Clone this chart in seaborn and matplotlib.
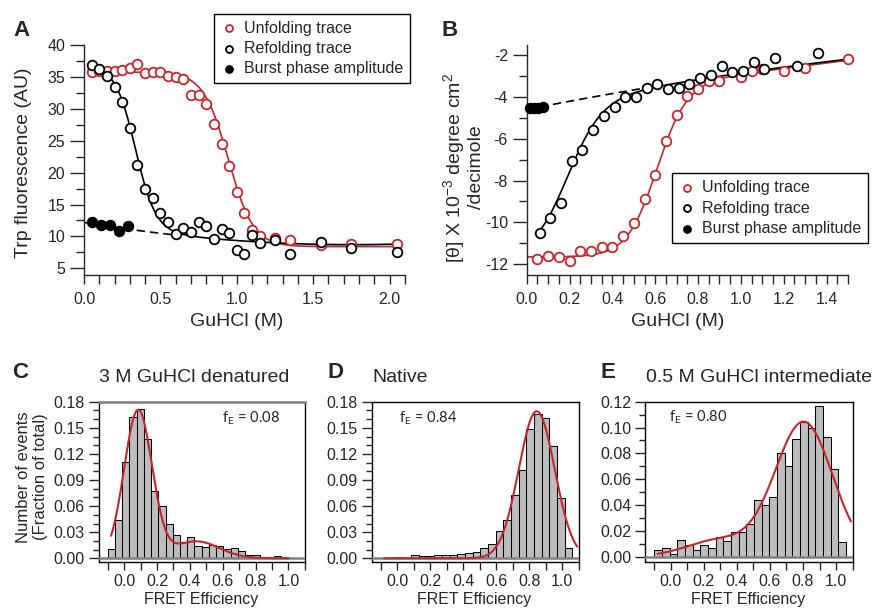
import numpy as np
import pandas as pd
import matplotlib
matplotlib.use("Agg")
import matplotlib.pyplot as plt
import seaborn as sns
from matplotlib.ticker import MultipleLocator, FormatStrFormatter

# ------------------------------------------------------------------ data
# Panel A : Trp fluorescence vs GuHCl
a_unf_x = [0.05, 0.10, 0.15, 0.20, 0.25, 0.30, 0.35, 0.40, 0.45, 0.50, 0.55, 0.60, 0.65, 0.70,
           0.75, 0.80, 0.85, 0.90, 0.95, 1.00, 1.05, 1.10, 1.15, 1.25, 1.35, 1.55, 1.75, 2.05]
a_unf_y = [35.8, 36.0, 35.9, 36.0, 36.1, 36.4, 37.0, 35.6, 35.7, 35.7, 35.2, 35.0, 34.6, 32.1,
           32.1, 30.7, 27.6, 24.5, 21.1, 16.9, 13.6, 11.0, 10.0, 9.8, 9.4, 8.65, 8.8, 8.8]
a_ref_x = a_unf_x
a_ref_y = [36.8, 36.2, 35.1, 33.4, 31.0, 27.0, 21.2, 17.4, 16.0, 13.6, 12.2, 10.3, 11.3, 10.7,
           12.3, 11.6, 9.6, 11.1, 10.6, 7.9, 7.3, 10.2, 8.9, 9.4, 7.2, 9.1, 8.2, 7.5]
a_burst_x = [0.05, 0.11, 0.17, 0.23, 0.29]
a_burst_y = [12.2, 11.8, 11.8, 10.9, 11.6]
# fit parameters
a_unf_fit = [35.75, 8.4, 0.945, 0.082]          # native, unfolded, midpoint, width
a_ref_fit = [36.8, 0.335, 0.066]                # native, midpoint, width
a_ref_base = [12.2, -3.985, 1.135]              # unfolded baseline (quadratic)

# Panel B : far-UV CD vs GuHCl
b_unf_x = [0.05, 0.10, 0.15, 0.20, 0.25, 0.30, 0.35, 0.40, 0.45, 0.50, 0.55, 0.60, 0.65, 0.70,
           0.75, 0.80, 0.85, 0.90, 1.00, 1.05, 1.10, 1.20, 1.30, 1.50]
b_unf_y = [-11.76, -11.62, -11.65, -11.84, -11.36, -11.36, -11.16, -11.19, -10.63, -10.01,
           -8.88, -7.72, -6.12, -4.87, -3.97, -3.64, -3.23, -3.24, -3.04, -2.75, -2.68,
           -2.76, -2.64, -2.21]
b_ref_x = [0.06, 0.11, 0.16, 0.21, 0.26, 0.31, 0.36, 0.41, 0.46, 0.51, 0.56, 0.61, 0.66, 0.71,
           0.76, 0.81, 0.86, 0.91, 0.96, 1.01, 1.06, 1.11, 1.16, 1.26, 1.36]
b_ref_y = [-10.49, -9.79, -9.05, -7.06, -6.54, -5.60, -4.93, -4.50, -4.02, -4.02, -3.58,
           -3.37, -3.62, -3.58, -3.39, -3.10, -2.97, -2.54, -2.80, -2.78, -2.33, -2.68,
           -2.16, -2.53, -1.89]
b_burst_x = [0.015, 0.035, 0.055, 0.075]
b_burst_y = [-4.55, -4.52, -4.52, -4.50]
b_unf_fit = [-11.65, 0.605, 0.07]
b_unf_base = [-4.2, 1.3]
b_ref_fit = [-11.65, 0.185, 0.08]
b_ref_base = [-4.6, 2.0, -0.265]

# Panels C-E : smFRET histograms (fraction of total)
c_centers = [-0.078, -0.034, 0.010, 0.054, 0.098, 0.142, 0.186, 0.230, 0.274, 0.318, 0.362,
             0.406, 0.450, 0.494, 0.538, 0.582, 0.626, 0.670, 0.714, 0.758, 0.802, 0.846,
             0.890, 0.934, 0.978]
c_heights = [0.0108, 0.0435, 0.111, 0.162, 0.172, 0.137, 0.0777, 0.0596, 0.040, 0.0269,
             0.0185, 0.0246, 0.0138, 0.0135, 0.0158, 0.0138, 0.0104, 0.0119, 0.0085, 0.0038,
             0.0038, 0.0019, 0.0019, 0.0027, 0.0015]
de_centers = [-0.0768, -0.0304, 0.0160, 0.0624, 0.1088, 0.1552, 0.2016, 0.2480, 0.2944,
              0.3408, 0.3872, 0.4336, 0.4800, 0.5264, 0.5728, 0.6192, 0.6656, 0.7120,
              0.7584, 0.8048, 0.8512, 0.8976, 0.9440, 0.9904, 1.0368]
d_heights = [0.0, 0.0, 0.0015, 0.0008, 0.0035, 0.0027, 0.0027, 0.0035, 0.0035, 0.0035, 0.005,
             0.006, 0.0077, 0.0123, 0.017, 0.031, 0.0446, 0.073, 0.102, 0.149, 0.166, 0.161,
             0.129, 0.069, 0.0115]
e_heights = [0.0047, 0.0067, 0.0021, 0.013, 0.0086, 0.0054, 0.0086, 0.0067, 0.0153, 0.0122,
             0.0187, 0.0194, 0.0249, 0.0441, 0.0397, 0.0461, 0.0804, 0.070, 0.0912, 0.1045,
             0.0993, 0.1166, 0.093, 0.0682, 0.0111]
c_fit = [(0.170, 0.085, 0.085), (0.0195, 0.44, 0.14)]   # (amplitude, mean, sigma)
d_fit = [(0.169, 0.845, 0.109)]
e_fit = [(0.104, 0.805, 0.174), (0.013, 0.30, 0.20)]
c_fit_range = [-0.08, 1.0]
d_fit_range = [-0.08, 1.09]
e_fit_range = [-0.08, 1.09]
fE_labels = ["0.08", "0.84", "0.80"]
titles = ["3 M GuHCl denatured", "Native", "0.5 M GuHCl intermediate"]
legend_labels = ["Unfolding trace", "Refolding trace", "Burst phase amplitude"]

# ------------------------------------------------------------------ style
sns.set_style("ticks")
plt.rcParams["font.family"] = ["Liberation Sans", "DejaVu Sans"]
plt.rcParams["axes.unicode_minus"] = False
plt.rcParams["axes.linewidth"] = 1.0
plt.rcParams["xtick.major.width"] = 1.0
plt.rcParams["ytick.major.width"] = 1.0
plt.rcParams["xtick.minor.width"] = 1.0
plt.rcParams["ytick.minor.width"] = 1.0

RED = "#C1272D"
GRAY_BAR = "#BDBDBD"
W, H = 872, 610
fig = plt.figure(figsize=(W / 100, H / 100), dpi=100)


def add_ax(l, t, r, b):
    return fig.add_axes([l / W, 1 - b / H, (r - l) / W, (b - t) / H])


def sigmoid(x, nat, unf, cm, w):
    return unf + (nat - unf) / (1 + np.exp((x - cm) / w))


def poly(x, coeffs):
    return sum(c * x ** i for i, c in enumerate(coeffs))


def gauss_sum(x, comps):
    return sum(a * np.exp(-(x - m) ** 2 / (2 * s ** 2)) for a, m, s in comps)


def points(ax, x, y, face, edge, label, z):
    sns.scatterplot(x=x, y=y, ax=ax, s=48, facecolor=face, edgecolor=edge, linewidth=1.3,
                    label=label, zorder=z, clip_on=False, legend=False)


def line(ax, x, y, color, lw=1.2, ls="-", z=2):
    sns.lineplot(x=x, y=y, ax=ax, color=color, linewidth=lw, linestyle=ls, zorder=z,
                 errorbar=None, sort=True, legend=False)


# ------------------------------------------------------------------ panel A
axA = add_ax(84, 45, 405, 274.5)
xg = np.linspace(0.05, 2.05, 400)
xd = np.linspace(0.0, 0.62, 50)
line(axA, xd, poly(xd, a_ref_base), "black", lw=1.2, ls=(0, (5, 3)))
line(axA, xg, sigmoid(xg, a_unf_fit[0], a_unf_fit[1], a_unf_fit[2], a_unf_fit[3]), RED)
line(axA, xg, sigmoid(xg, a_ref_fit[0], poly(xg, a_ref_base), a_ref_fit[1], a_ref_fit[2]), "black")
points(axA, a_unf_x, a_unf_y, "white", RED, legend_labels[0], 3)
points(axA, a_ref_x, a_ref_y, "white", "black", legend_labels[1], 4)
points(axA, a_burst_x, a_burst_y, "black", "black", legend_labels[2], 5)
axA.set_xlim(0, 2.101)
axA.set_ylim(4.03, 40)
axA.xaxis.set_major_locator(MultipleLocator(0.5))
axA.xaxis.set_minor_locator(MultipleLocator(0.1))
axA.xaxis.set_major_formatter(FormatStrFormatter("%.1f"))
axA.yaxis.set_major_locator(MultipleLocator(5))
axA.yaxis.set_minor_locator(MultipleLocator(2.5))
axA.set_xlabel("GuHCl (M)", fontsize=14)
axA.set_ylabel("Trp fluorescence (AU)", fontsize=14)
axA.xaxis.set_label_coords(0.477, -0.168)
axA.yaxis.set_label_coords(-0.163, 0.485)

# ------------------------------------------------------------------ panel B
axB = add_ax(526.7, 45, 848, 274.5)
xg_u = np.linspace(0.0, 1.5, 400)
xg_r = np.linspace(0.06, 1.5, 400)
xd = np.linspace(0.0, 0.55, 50)
line(axB, xd, poly(xd, b_ref_base), "black", lw=1.2, ls=(0, (5, 3)))
line(axB, xg_u, sigmoid(xg_u, b_unf_fit[0], poly(xg_u, b_unf_base), b_unf_fit[1], b_unf_fit[2]), RED)
line(axB, xg_r, sigmoid(xg_r, b_ref_fit[0], poly(xg_r, b_ref_base), b_ref_fit[1], b_ref_fit[2]), "black")
points(axB, b_unf_x, b_unf_y, "white", RED, legend_labels[0], 3)
points(axB, b_ref_x, b_ref_y, "white", "black", legend_labels[1], 4)
points(axB, b_burst_x, b_burst_y, "black", "black", legend_labels[2], 5)
axB.set_xlim(0, 1.5001)
axB.set_ylim(-12.49, -1.52)
axB.xaxis.set_major_locator(MultipleLocator(0.2))
axB.xaxis.set_minor_locator(MultipleLocator(0.05))
axB.xaxis.set_major_formatter(FormatStrFormatter("%.1f"))
axB.yaxis.set_major_locator(MultipleLocator(2))
axB.yaxis.set_minor_locator(MultipleLocator(1))
axB.yaxis.set_major_formatter(FormatStrFormatter("%d"))
axB.set_xlabel("GuHCl (M)", fontsize=14)
axB.set_ylabel("[\u03b8] X 10$^{\\mathregular{-3}}$ degree cm$^{\\mathregular{2}}$\n/decimole",
               fontsize=14, multialignment="center", linespacing=1.0)
axB.xaxis.set_label_coords(0.469, -0.168)
axB.yaxis.set_label_coords(-0.13, 0.466)

for ax in (axA, axB):
    sns.despine(ax=ax)
    ax.tick_params(axis="y", which="major", length=10, direction="out", pad=3.5, labelsize=11.5)
    ax.tick_params(axis="y", which="minor", length=6, direction="out")
    ax.tick_params(axis="x", which="both", length=6.5, direction="out", pad=6, labelsize=11.5)

legA_h, legA_l = axA.get_legend_handles_labels()
legB_h, legB_l = axB.get_legend_handles_labels()
for ax, hh, ll, anchor in ((axA, legA_h, legA_l, (213.5, 13.5)), (axB, legB_h, legB_l, (671.7, 173.3))):
    leg = ax.legend(hh, ll, loc="upper left", bbox_to_anchor=(anchor[0] / W, 1 - anchor[1] / H),
                    bbox_transform=fig.transFigure, frameon=True, fancybox=False,
                    edgecolor="black", framealpha=1, fontsize=11.5, markerscale=0.72,
                    handletextpad=0.45, borderpad=0.45, labelspacing=0.32, handlelength=1.0,
                    borderaxespad=0)
    leg.get_frame().set_linewidth(1.0)
    leg.set_zorder(10)

# ------------------------------------------------------------------ panels C-E
hist_specs = [
    ((98.7, 401.7, 305, 561.7), c_centers, c_heights, c_fit, c_fit_range, (-0.0039, 0.18), 0.03),
    ((371.7, 401.7, 579, 561.7), de_centers, d_heights, d_fit, d_fit_range, (-0.0039, 0.18), 0.03),
    ((645.3, 401.7, 852.7, 561.7), de_centers, e_heights, e_fit, e_fit_range, (-0.004, 0.12), 0.02),
]
fE_pos = [(221.7, 422.7), (398.7, 422.3), (669.3, 421.7)]
hist_axes = []
for i, (box, centers, heights, fit, frange, ylim, ystep) in enumerate(hist_specs):
    ax = add_ax(*box)
    hist_axes.append(ax)
    centers = np.asarray(centers, dtype=float)
    width = centers[1] - centers[0]
    edges = [float(v) for v in np.append(centers - width / 2, centers[-1] + width / 2)]
    df = pd.DataFrame({"fret": centers, "frac": heights})
    sns.histplot(data=df, x="fret", weights="frac", bins=edges, ax=ax, stat="count",
                 color=GRAY_BAR, edgecolor="black", linewidth=0.75, alpha=1, zorder=2)
    ax.axhline(0, color="#808080", linewidth=1.8, zorder=3)
    xf = np.linspace(frange[0], frange[1], 300)
    line(ax, xf, gauss_sum(xf, fit), RED, lw=1.5, z=4)
    ax.set_xlim(-0.155, 1.101)
    ax.set_ylim(*ylim)
    ax.xaxis.set_major_locator(MultipleLocator(0.2))
    ax.xaxis.set_minor_locator(MultipleLocator(0.1))
    ax.xaxis.set_major_formatter(FormatStrFormatter("%.1f"))
    ax.yaxis.set_major_locator(MultipleLocator(ystep))
    ax.yaxis.set_minor_locator(MultipleLocator(0.01))
    ax.yaxis.set_major_formatter(FormatStrFormatter("%.2f"))
    ax.tick_params(axis="y", which="major", length=7, direction="out", pad=3, labelsize=11.5)
    ax.tick_params(axis="y", which="minor", length=4, direction="out")
    ax.tick_params(axis="x", which="both", length=5.5, direction="out", pad=3, labelsize=11.5)
    for s in ("left", "right", "bottom", "top"):
        ax.spines[s].set_visible(True)
        ax.spines[s].set_color("black")
    if i == 0:
        ax.spines["top"].set_color("#808080")
        ax.spines["top"].set_linewidth(1.8)
    ax.set_xlabel("FRET Efficiency", fontsize=11.5)
    ax.xaxis.set_label_coords(0.495, -0.19)
    if i == 0:
        ax.set_ylabel("Number of events\n(Fraction of total)", fontsize=12,
                      multialignment="center", linespacing=1.15)
        ax.yaxis.set_label_coords(-0.245, 0.53)
    else:
        ax.set_ylabel("")
    fig.text(fE_pos[i][0] / W, 1 - fE_pos[i][1] / H, "f$_{\\mathregular{E}}$ = " + fE_labels[i],
             fontsize=10.5, family=["Lato", "DejaVu Sans"], va="baseline", ha="left")

# ------------------------------------------------------------------ panel letters & titles
for letter, x, y in (("A", 13, 36), ("B", 441.7, 36), ("C", 12, 378), ("D", 327, 378), ("E", 600.7, 378)):
    fig.text(x / W, 1 - y / H, letter, fontsize=16, fontweight="bold", va="baseline", ha="left")
for t, x in zip(titles, (99, 372.7, 646)):
    fig.text(x / W, 1 - 382.5 / H, t, fontsize=14, va="baseline", ha="left")

fig.savefig("out.png", dpi=100)
